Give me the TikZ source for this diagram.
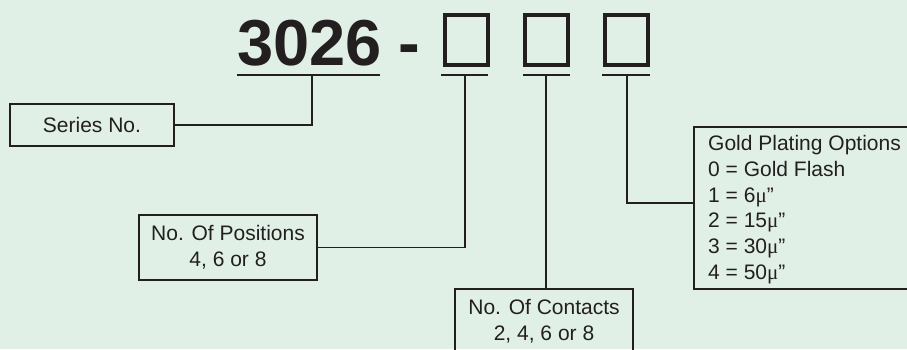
\documentclass[tikz,border=0pt]{standalone}
\usepackage{fontspec}
\setmainfont{Liberation Sans}
\newfontfamily\mufont{Liberation Serif}
\definecolor{bg}{RGB}{225,240,230}
\definecolor{ink}{RGB}{35,31,32}
\tikzset{
  lbl/.style={font=\fontsize{21}{26}\selectfont, text=ink, inner sep=0pt},
  box/.style={draw=ink, line width=1.8pt, align=center, inner sep=0pt, lbl},
  sq/.style={draw=ink, line width=4pt, minimum width=43pt, minimum height=50pt, inner sep=0pt},
  wire/.style={draw=ink, line width=1.8pt},
  big/.style={inner sep=0pt, text=ink, font=\fontsize{65}{70}\selectfont\bfseries}
}
\newcommand{\mymu}{{\mufont μ}”}
\begin{document}
\begin{tikzpicture}[x=1pt,y=-1pt]
\useasboundingbox (0,0) rectangle (907,349);
\fill[bg] (0,0) rectangle (907,349);
\clip (0,0) rectangle (907,349);

% title
\node[big, anchor=base west] (num) at (237,65) {3026};
\node[big, anchor=base] (dash) at (409,65) {-};
\node[sq] (b1) at (466.5,40) {};
\node[sq] (b2) at (546.5,40) {};
\node[sq] (b3) at (626.5,40) {};

% underlines and stems
\coordinate (u0l) at (237,75); \coordinate (u0r) at (380,75); \coordinate (s0) at (312,75);
\coordinate (u1l) at (441,75); \coordinate (u1r) at (488,75); \coordinate (s1) at (465,75);
\coordinate (u2l) at (523,75); \coordinate (u2r) at (570,75); \coordinate (s2) at (546,75);
\coordinate (u3l) at (602,75); \coordinate (u3r) at (650,75); \coordinate (s3) at (627,75);
\draw[wire] (u0l) -- (u0r);
\draw[wire] (u1l) -- (u1r);
\draw[wire] (u2l) -- (u2r);
\draw[wire] (u3l) -- (u3r);

% boxes
\node[box, minimum width=164pt, minimum height=42pt] (series) at (92,125) {Series No.};
\node[box, minimum width=178pt, minimum height=65pt] (pos) at (228,247.5) {No. Of Positions\\4, 6 or 8};
\node[box, minimum width=178pt, minimum height=65pt] (cont) at (544,321.5) {No. Of Contacts\\2, 4, 6 or 8};
\node[box, minimum width=232pt, minimum height=162pt, anchor=north west] (gold) at (693,126) {};
\node[lbl, anchor=base west] (g1) at (708,150.5) {Gold Plating Options};
\node[lbl, anchor=base west] (g2) at (708,176.3) {0 = Gold Flash};
\node[lbl, anchor=base west] (g3) at (708,202.1) {1 = 6\mymu};
\node[lbl, anchor=base west] (g4) at (708,227.9) {2 = 15\mymu};
\node[lbl, anchor=base west] (g5) at (708,253.7) {3 = 30\mymu};
\node[lbl, anchor=base west] (g6) at (708,279.5) {4 = 50\mymu};

% connectors
\draw[wire] (series.east) -| (s0);
\draw[wire] (pos.east) -| (s1);
\draw[wire] (s2) -- (s2 |- cont.north);
\draw[wire] (s3) |- ([yshift=5pt]gold.west);
\end{tikzpicture}
\end{document}
